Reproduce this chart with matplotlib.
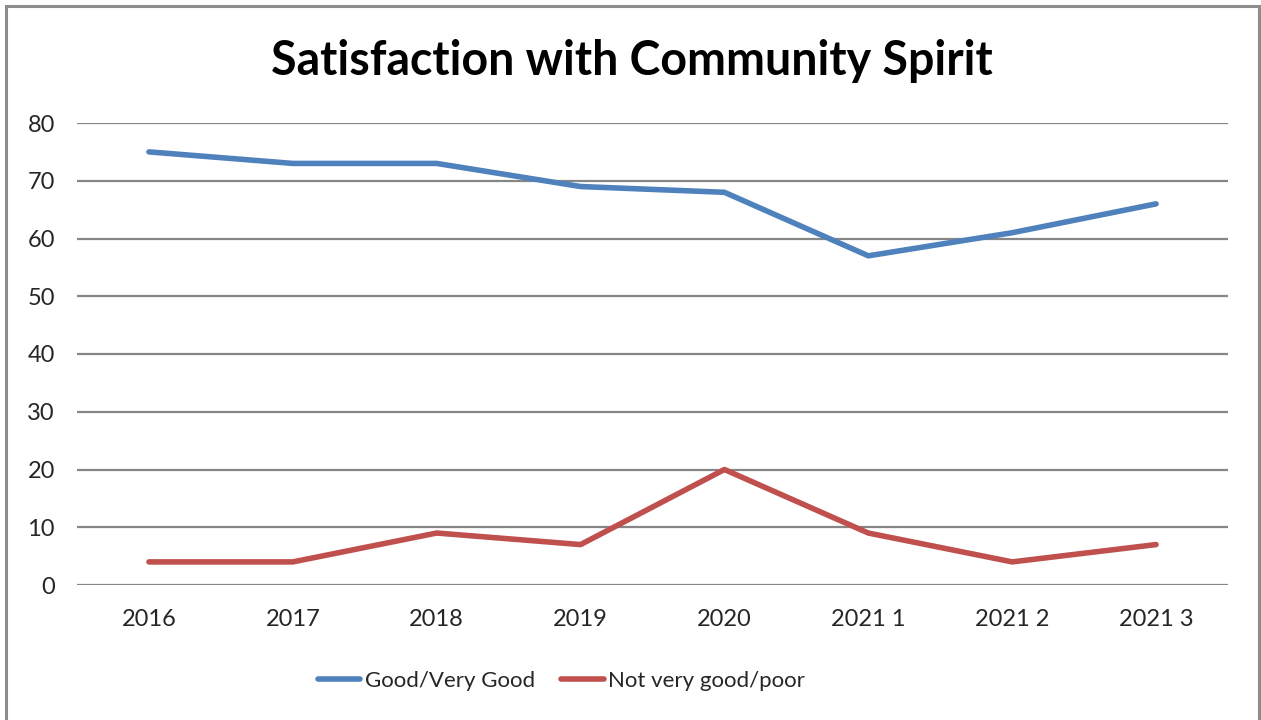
import matplotlib
matplotlib.use("Agg")
import matplotlib.pyplot as plt
from matplotlib.patches import Rectangle

# data
categories = ["2016", "2017", "2018", "2019", "2020", "2021 1", "2021 2", "2021 3"]
good = [75, 73, 73, 69, 68, 57, 61, 66]
not_good = [4, 4, 9, 7, 20, 9, 4, 7]
y_ticks = [0, 10, 20, 30, 40, 50, 60, 70, 80]

BLUE = "#4F81BD"
RED = "#C0504D"
GRID = "#868686"
FONT = "Lato"

W, H = 1261, 720
fig = plt.figure(figsize=(W / 100, H / 100), dpi=100)
fig.patch.set_facecolor("white")

# outer chart border (bottom edge runs off the image)
fig.add_artist(Rectangle((6 / W, -0.02), (1259 - 6) / W, 1 - 6 / H + 0.02,
                         transform=fig.transFigure, fill=False,
                         edgecolor="#8c8c8c", linewidth=2.2))

ax = fig.add_axes([77 / W, 1 - 585 / H, (1228 - 77) / W, (585 - 123) / H])
x = list(range(len(categories)))
ax.plot(x, good, color=BLUE, linewidth=4.0, solid_capstyle="round",
        solid_joinstyle="round", label="Good/Very Good", zorder=3)
ax.plot(x, not_good, color=RED, linewidth=4.0, solid_capstyle="round",
        solid_joinstyle="round", label="Not very good/poor", zorder=3)

ax.set_xlim(-0.5, len(categories) - 0.5)
ax.set_ylim(0, 80)
ax.set_yticks(y_ticks)
ax.set_xticks(x)
ax.set_xticklabels(categories)
ax.yaxis.grid(True, color=GRID, linewidth=1.6)
ax.set_axisbelow(True)
for s in ax.spines.values():
    s.set_visible(False)
ax.tick_params(axis="both", length=0, labelsize=17, labelcolor="#262626")
ax.tick_params(axis="y", pad=16)
ax.tick_params(axis="x", pad=17)
for lab in ax.get_xticklabels() + ax.get_yticklabels():
    lab.set_fontfamily(FONT)
for ln in ax.lines:
    ln.set_clip_on(False)

fig.text(632 / W, 1 - 61 / H, "Satisfaction with Community Spirit",
         ha="center", va="center", fontsize=33.5, fontweight="bold",
         family=FONT, color="black")

leg = fig.legend(loc="center left", bbox_to_anchor=(318 / W, 1 - 681 / H),
                 ncol=2, frameon=False, prop={"family": FONT, "size": 16},
                 handlelength=1.9, handletextpad=0.2, columnspacing=1.2,
                 borderaxespad=0, borderpad=0)
for t in leg.get_texts():
    t.set_color("#262626")

fig.savefig("out.png", dpi=100)
